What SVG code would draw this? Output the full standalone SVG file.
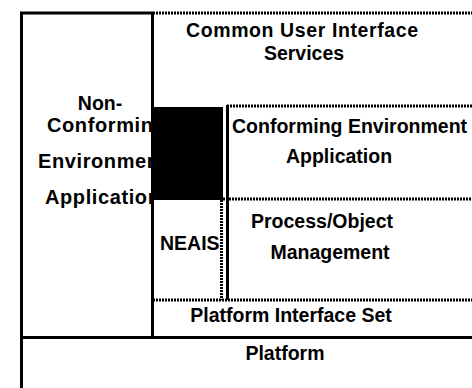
<svg xmlns="http://www.w3.org/2000/svg" width="472" height="388" viewBox="0 0 472 388">
<style>
.solid{fill:none;stroke:#000;stroke-width:3}
.dot{fill:none;stroke:#000;stroke-width:3;stroke-dasharray:2 1}
.t{font-family:"Liberation Sans",Arial,Helvetica,sans-serif;font-weight:bold;font-size:19.5px;fill:#000}
.l{font-size:20px;letter-spacing:0.6px}
.m{text-anchor:middle}
</style>
<defs>
<clipPath id="leftclip"><rect x="0" y="0" width="151" height="388"/></clipPath>
</defs>
<rect width="472" height="388" fill="#fff"/>
<g id="n-left" clip-path="url(#leftclip)">
<text class="t m" x="100" y="110">Non-</text>
<text class="t l" x="47" y="132">Conforming</text>
<text class="t l" x="38" y="168">Environment</text>
<text class="t l" x="45" y="204">Application</text>
</g>
<g id="n-cuis">
<text class="t m" x="302" y="37" textLength="232" lengthAdjust="spacing">Common User Interface</text>
<text class="t m" x="304" y="60">Services</text>
</g>
<g id="n-black">
<rect x="152" y="107" width="71" height="93" fill="#000"/>
</g>
<g id="n-cea">
<text class="t" x="232" y="133">Conforming Environment</text>
<text class="t m" x="339" y="163">Application</text>
</g>
<g id="n-neais">
<text class="t" x="160" y="250">NEAIS</text>
</g>
<g id="n-pom">
<text class="t m" x="322" y="228">Process/Object</text>
<text class="t m" x="330" y="259">Management</text>
</g>
<g id="n-pis">
<text class="t m" x="291" y="322">Platform Interface Set</text>
</g>
<g id="n-platform">
<text class="t m" x="285" y="360">Platform</text>
</g>
<g id="connectors">
<line class="solid" x1="20" y1="13" x2="153" y2="13"/>
<line class="dot" x1="153" y1="13" x2="472" y2="13"/>
<line class="solid" x1="21.5" y1="12" x2="21.5" y2="388"/>
<line class="solid" x1="152.5" y1="12" x2="152.5" y2="338"/>
<line class="solid" x1="20" y1="337.5" x2="472" y2="337.5"/>
<line class="solid" x1="227.5" y1="105" x2="227.5" y2="300"/>
<line class="dot" x1="227" y1="106" x2="472" y2="106"/>
<line class="dot" x1="223" y1="199" x2="472" y2="199"/>
<line class="dot" x1="221.5" y1="200" x2="221.5" y2="300"/>
<line class="dot" x1="153" y1="300" x2="472" y2="300"/>
</g>
</svg>
